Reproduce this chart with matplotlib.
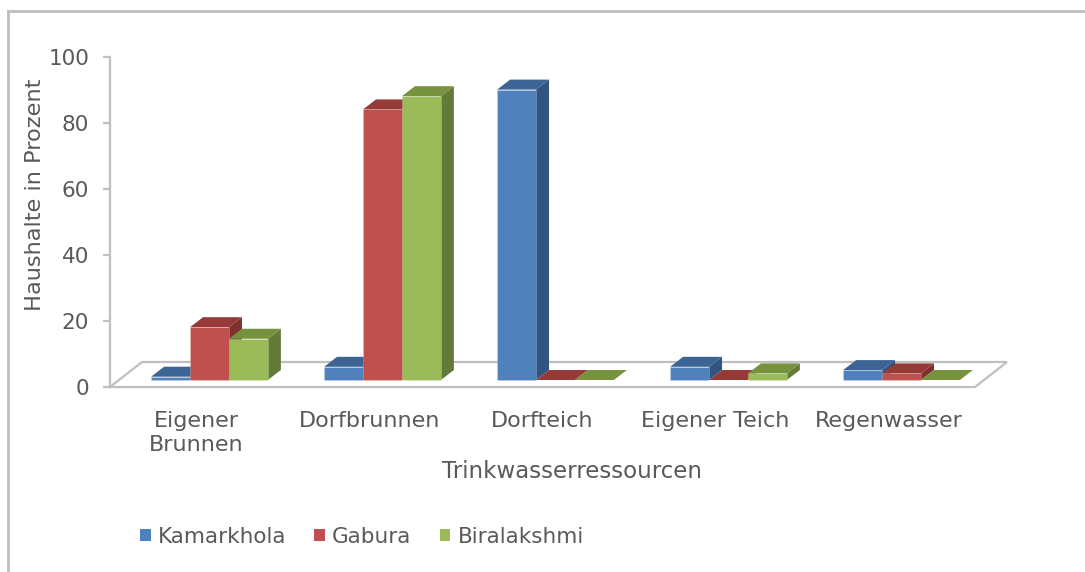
import numpy as np
import matplotlib
matplotlib.use("Agg")
import matplotlib.pyplot as plt
from matplotlib.patches import Polygon, Patch
from matplotlib.lines import Line2D

# data
categories = ["Eigener\nBrunnen", "Dorfbrunnen", "Dorfteich", "Eigener Teich", "Regenwasser"]
series = ["Kamarkhola", "Gabura", "Biralakshmi"]
kamarkhola = [1, 4, 88, 4, 3]
gabura = [16, 82, 0, 0, 2]
biralakshmi = [12.5, 86, 0, 2, 0]
values = [kamarkhola, gabura, biralakshmi]
y_ticks = [0, 20, 40, 60, 80, 100]

front_col = ["#4F81BD", "#C0504D", "#9BBB59"]
top_col = ["#3C6595", "#953A37", "#76923C"]
side_col = ["#33547E", "#7E302E", "#637B38"]
grey = "#BFBFBF"
txt = "#595959"

W, H = 1085, 572
fig = plt.figure(figsize=(W / 100, H / 100), dpi=100)
# axes placed in pixels: axis line at x=110, y=0 at 387, y=100 at 57, floor front-right at 975
ax_l, ax_r, ax_b, ax_t = 110, 975, 387, 57
ax = fig.add_axes([ax_l / W, 1 - ax_b / H, (ax_r - ax_l) / W, (ax_b - ax_t) / H])
ax.set_xlim(-0.5, 4.5)
ax.set_ylim(0, 100)
ax.patch.set_visible(False)

# pixel -> data units
ux = 5.0 / (ax_r - ax_l)
uy = 100.0 / (ax_b - ax_t)

floor_dx, floor_dy = 32 * ux, 25 * uy   # floor depth
off_x, off_y = 13 * ux, 7 * uy          # front plane of bars
dep_x, dep_y = 13 * ux, 10 * uy         # bar depth

# floor
x0, x1 = -0.5, 4.5
floor = Polygon([(x0, 0), (x1, 0), (x1 + floor_dx, floor_dy), (x0 + floor_dx, floor_dy)],
                closed=True, facecolor="white", edgecolor=grey, lw=1.6, clip_on=False, zorder=1)
ax.add_patch(floor)

bw = 0.225
x = np.arange(len(categories))
for c in range(len(categories)):
    for s in range(len(series)):
        v = values[s][c]
        left = x[c] + (s - 1.5) * bw + off_x
        right = left + bw
        b = off_y
        t = off_y + v
        side = Polygon([(right, b), (right + dep_x, b + dep_y), (right + dep_x, t + dep_y), (right, t)],
                       closed=True, facecolor=side_col[s], edgecolor="none", clip_on=False, zorder=2)
        top = Polygon([(left, t), (right, t), (right + dep_x, t + dep_y), (left + dep_x, t + dep_y)],
                      closed=True, facecolor=top_col[s], edgecolor="none", clip_on=False, zorder=2)
        ax.add_patch(side)
        ax.add_patch(top)
        if v > 0:
            ax.bar(left, v, width=bw, bottom=b, align="edge", color=front_col[s],
                   edgecolor="#FFFFFF40", lw=0.5, clip_on=False, zorder=2)

# axes styling
for sp in ["top", "right", "bottom"]:
    ax.spines[sp].set_visible(False)
ax.spines["left"].set_color(grey)
ax.spines["left"].set_linewidth(1.6)
ax.set_yticks(y_ticks)
ax.tick_params(axis="y", colors=grey, labelcolor=txt, labelsize=15.5, length=5, width=1.6, pad=10)
ax.set_xticks(x)
ax.set_xticklabels(categories, fontsize=16, color=txt, linespacing=1.3)
ax.tick_params(axis="x", length=0, pad=17)

ax.set_xlabel("Trinkwasserressourcen", fontsize=16.5, color=txt)
ax.xaxis.set_label_coords((572 - ax_l) / (ax_r - ax_l), (ax_b - 472) / (ax_b - ax_t))
ax.xaxis.label.set_va("center")
ax.set_ylabel("Haushalte in Prozent", fontsize=16.2, color=txt)
ax.yaxis.set_label_coords((35 - ax_l) / (ax_r - ax_l), (ax_b - 195) / (ax_b - ax_t))
ax.yaxis.label.set_va("center")

# legend
handles = [Patch(facecolor=front_col[i], edgecolor="none", label=series[i]) for i in range(3)]
fig.legend(handles=handles, loc="center left", bbox_to_anchor=(140 / W, 1 - 537 / H), ncol=3,
           frameon=False, fontsize=15.5, handlelength=0.5, handleheight=0.5,
           handletextpad=0.33, columnspacing=1.3, borderpad=0, borderaxespad=0, labelcolor=txt)

# outer frame (top and left edges visible)
fig.add_artist(Line2D([8 / W, 8 / W], [0, 1 - 11 / H], color=grey, lw=2, transform=fig.transFigure))
fig.add_artist(Line2D([8 / W, 1], [1 - 11 / H, 1 - 11 / H], color=grey, lw=2, transform=fig.transFigure))

fig.savefig("out.png", dpi=100)
